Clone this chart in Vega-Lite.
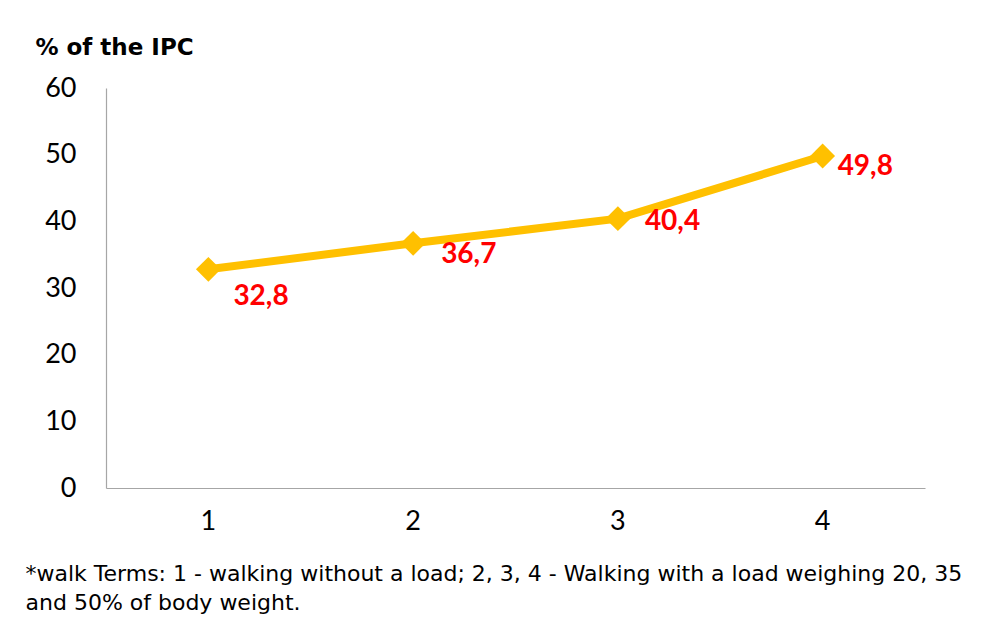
{
  "$schema": "https://vega.github.io/schema/vega-lite/v6.json",
  "autosize": "none",
  "width": 819,
  "height": 400,
  "padding": {"left": 106, "top": 88, "right": 70, "bottom": 143},
  "background": "white",
  "config": {"view": {"stroke": null}, "font": "Lato"},
  "data": {"values": [
    {"term": "1", "ipc": 32.8, "label": "32,8"},
    {"term": "2", "ipc": 36.7, "label": "36,7"},
    {"term": "3", "ipc": 40.4, "label": "40,4"},
    {"term": "4", "ipc": 49.8, "label": "49,8"}
  ]},
  "encoding": {
    "x": {"field": "term", "type": "ordinal", "scale": {"type": "band", "paddingInner": 0, "paddingOuter": 0},
      "axis": {"labelAngle": 0, "labelFont": "Lato", "labelFontSize": 27, "labelColor": "#000000", "labelPadding": 20,
        "ticks": false, "domainColor": "#a6a6a6", "domainWidth": 1.2, "grid": false,
        "title": ["*walk Terms: 1 - walking without a load; 2, 3, 4 - Walking with a load weighing 20, 35", "and 50% of body weight."],
        "titleFont": "DejaVu Sans", "titleFontSize": 22, "titleFontWeight": "normal", "titleColor": "#000000",
        "titleAlign": "left", "titleAnchor": null, "titleX": -81, "titleY": 75, "titleBaseline": "top", "titleLineHeight": 29}},
    "y": {"field": "ipc", "type": "quantitative", "scale": {"domain": [0, 60]},
      "axis": {"values": [0, 10, 20, 30, 40, 50, 60], "labelFont": "Lato", "labelFontSize": 27, "labelColor": "#000000",
        "labelPadding": 30, "ticks": false, "grid": false, "domainColor": "#a6a6a6", "domainWidth": 1.2,
        "title": "% of the IPC", "titleAngle": 0, "titleAlign": "left", "titleBaseline": "middle",
        "titleX": -71, "titleY": -41, "titleFont": "DejaVu Sans", "titleFontSize": 23, "titleFontWeight": "bold", "titleColor": "#000000"}}
  },
  "layer": [
    {"mark": {"type": "line", "color": "#FFC000", "strokeWidth": 8, "point": {"shape": "diamond", "size": 620, "filled": true, "color": "#FFC000", "opacity": 1}}},
    {"transform": [{"filter": "datum.term == '1'"}], "mark": {"type": "text", "align": "left", "baseline": "middle", "dx": 25, "dy": 28, "fontSize": 28, "fontWeight": "bold", "color": "#FF0000"}, "encoding": {"text": {"field": "label"}}},
    {"transform": [{"filter": "datum.term == '2'"}], "mark": {"type": "text", "align": "left", "baseline": "middle", "dx": 28, "dy": 12, "fontSize": 28, "fontWeight": "bold", "color": "#FF0000"}, "encoding": {"text": {"field": "label"}}},
    {"transform": [{"filter": "datum.term == '3'"}], "mark": {"type": "text", "align": "left", "baseline": "middle", "dx": 27, "dy": 3, "fontSize": 28, "fontWeight": "bold", "color": "#FF0000"}, "encoding": {"text": {"field": "label"}}},
    {"transform": [{"filter": "datum.term == '4'"}], "mark": {"type": "text", "align": "left", "baseline": "middle", "dx": 15, "dy": 11, "fontSize": 28, "fontWeight": "bold", "color": "#FF0000"}, "encoding": {"text": {"field": "label"}}}
  ]
}
